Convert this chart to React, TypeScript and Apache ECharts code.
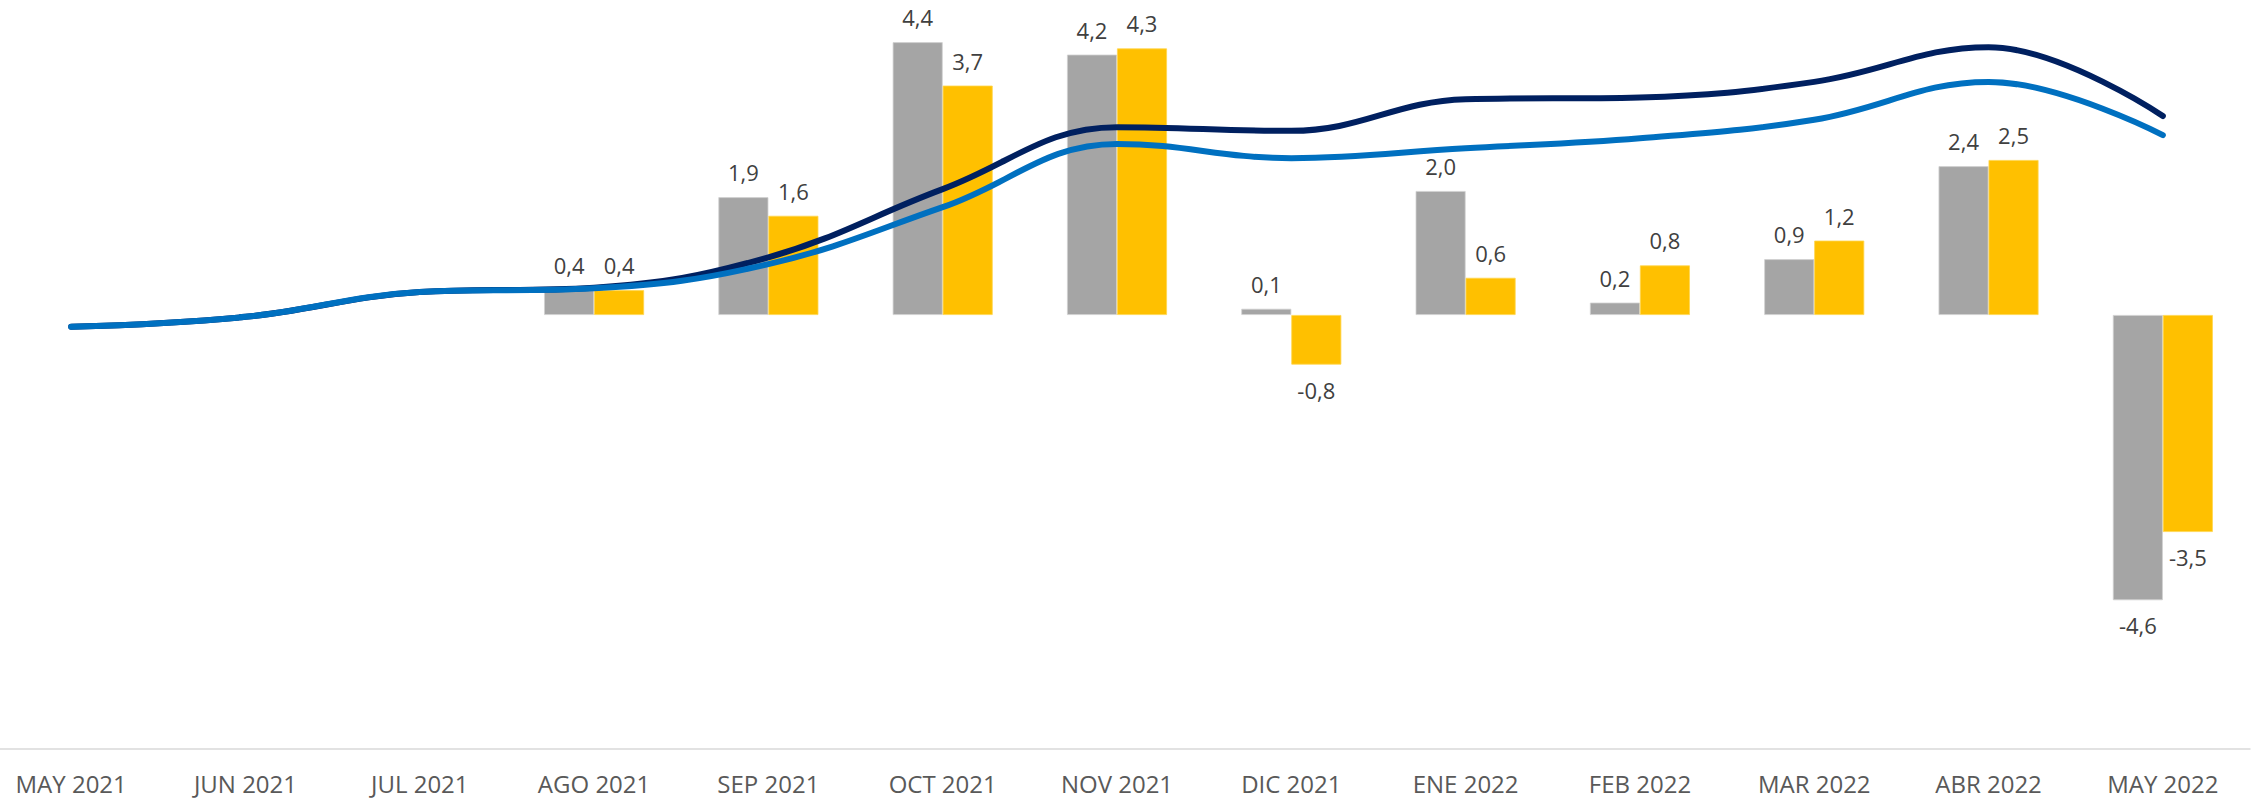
import React, { useEffect, useRef } from "react";
import * as echarts from "echarts";

const categories = [
  "MAY 2021", "JUN 2021", "JUL 2021", "AGO 2021", "SEP 2021", "OCT 2021", "NOV 2021",
  "DIC 2021", "ENE 2022", "FEB 2022", "MAR 2022", "ABR 2022", "MAY 2022",
];
const grayBars: (number | null)[] = [null, null, null, 0.4, 1.9, 4.4, 4.2, 0.1, 2.0, 0.2, 0.9, 2.4, -4.6];
const yellowBars: (number | null)[] = [null, null, null, 0.4, 1.6, 3.7, 4.3, -0.8, 0.6, 0.8, 1.2, 2.5, -3.5];
const navyLine = [-0.19, -0.03, 0.37, 0.44, 0.93, 2.03, 3.03, 2.97, 3.48, 3.51, 3.76, 4.32, 3.21];
const blueLine = [-0.19, -0.03, 0.37, 0.43, 0.82, 1.74, 2.76, 2.53, 2.69, 2.85, 3.15, 3.76, 2.9];

const fmt = (v: number) => v.toFixed(1).replace(".", ",");

const barData = (arr: (number | null)[]) =>
  arr.map((v) =>
    v === null
      ? null
      : { value: v, label: { position: v < 0 ? "bottom" : "top" } }
  );

export default function App() {
  const ref = useRef<HTMLDivElement>(null);
  useEffect(() => {
    if (!ref.current) return;
    const chart = echarts.init(ref.current, undefined, { renderer: "svg" });
    const labelStyle = {
      show: true,
      distance: 14,
      fontFamily: "Open Sans",
      fontSize: 22,
      color: "#404040",
      formatter: (p: any) => fmt(Number(p.value)),
    };
    chart.setOption({
      animation: false,
      backgroundColor: "#ffffff",
      grid: { left: 0, right: 2, top: 5, bottom: 49, containLabel: false },
      xAxis: {
        type: "category",
        data: categories,
        position: "bottom",
        axisLine: { show: true, onZero: false, lineStyle: { color: "#d9d9d9", width: 1.5 } },
        axisTick: { show: false },
        axisLabel: {
          fontFamily: "Open Sans",
          fontSize: 24,
          color: "#595959",
          margin: 22,
          interval: 0,
        },
        splitLine: { show: false },
      },
      yAxis: [
        { type: "value", min: -7, max: 5, interval: 1, show: false, splitLine: { show: false } },
        { type: "value", min: -7, max: 5, interval: 1, show: false, splitLine: { show: false } },
      ],
      series: [
        {
          type: "bar",
          data: barData(grayBars),
          barWidth: 50,
          barGap: "0%",
          itemStyle: { color: "#a5a5a5", borderColor: "#d0d0d0", borderWidth: 0.8 },
          label: labelStyle,
          z: 2,
        },
        {
          type: "bar",
          data: barData(yellowBars),
          barWidth: 50,
          barGap: "0%",
          itemStyle: { color: "#ffc000", borderColor: "#ffd54d", borderWidth: 0.8 },
          label: labelStyle,
          z: 2,
        },
        {
          type: "line",
          yAxisIndex: 1,
          data: navyLine,
          smooth: 0.4,
          showSymbol: false,
          symbol: "none",
          lineStyle: { color: "#002060", width: 6, cap: "round" },
          z: 3,
        },
        {
          type: "line",
          yAxisIndex: 1,
          data: blueLine,
          smooth: 0.4,
          showSymbol: false,
          symbol: "none",
          lineStyle: { color: "#0070c0", width: 6, cap: "round" },
          z: 4,
        },
      ],
    });
    return () => chart.dispose();
  }, []);
  return (
    <div
      ref={ref}
      style={{ position: "fixed", left: -16, top: 0, width: 2268, height: 798, background: "#fff" }}
    />
  );
}
